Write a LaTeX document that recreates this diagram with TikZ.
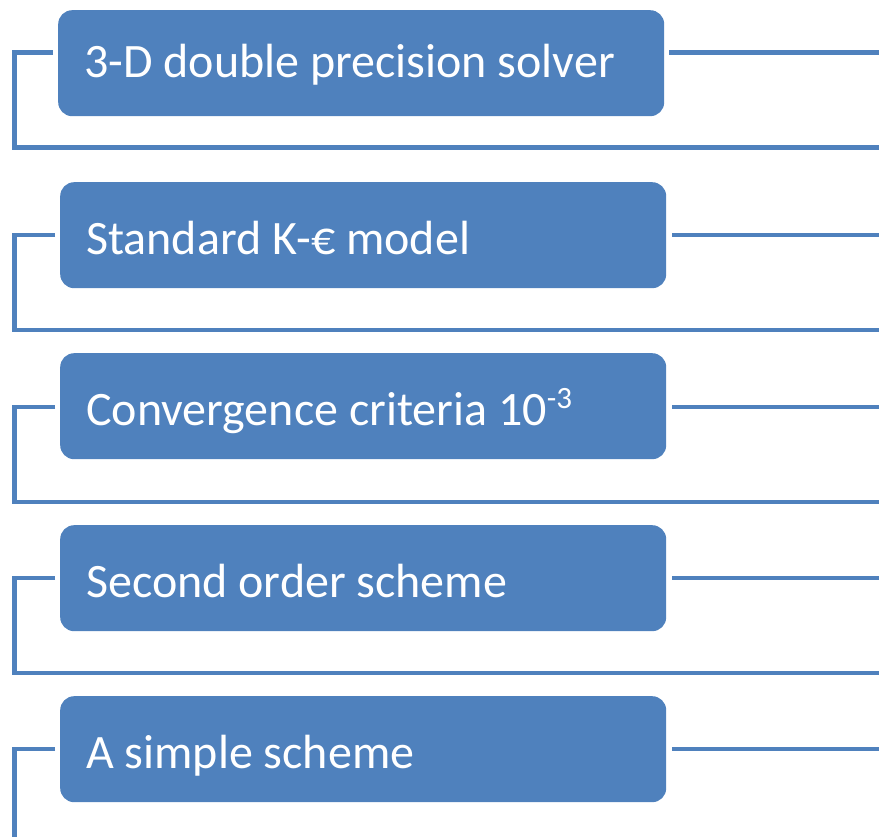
\documentclass[tikz,border=0pt]{standalone}
\usepackage{fontspec}
\setmainfont{Carlito}
\definecolor{boxblue}{HTML}{4F81BD}
\newcommand{\steptext}[1]{\makebox[554pt][l]{#1}}

\begin{document}
\begin{tikzpicture}[x=1pt,y=-1pt,
  stepbox/.style={fill=boxblue, rounded corners=14pt, anchor=north west,
    inner xsep=26pt, inner ysep=0pt,
    text height=72pt, text depth=34pt, text=white,
    font=\fontsize{48}{58}\selectfont},
  link/.style={draw=boxblue, line width=4.5pt}]

\useasboundingbox (0,0) rectangle (879,837);

\node[stepbox, text height=67pt, text depth=39pt] (box1) at (58,10) {\steptext{3-D double precision solver}};
\node[stepbox] (box2) at (60,182) {\steptext{Standard K-€ model}};
\node[stepbox] (box3) at (60,353) {\steptext{Convergence criteria 10\raisebox{17pt}{\fontsize{31}{31}\selectfont -3}}};
\node[stepbox] (box4) at (60,525) {\steptext{Second order scheme}};
\node[stepbox] (box5) at (60,696) {\steptext{A simple scheme}};

% bracket corners on the left, line ends on the right
\coordinate (l1) at (14.5,52.5);  \coordinate (r1) at (879,52.5);  \coordinate (b1) at (879,147.5);
\coordinate (l2) at (14.5,235);   \coordinate (r2) at (879,235);   \coordinate (b2) at (879,330);
\coordinate (l3) at (14.5,407);   \coordinate (r3) at (879,407);   \coordinate (b3) at (879,502);
\coordinate (l4) at (14.5,578);   \coordinate (r4) at (879,578);   \coordinate (b4) at (879,673);
\coordinate (l5) at (14.5,749);   \coordinate (r5) at (879,749);   \coordinate (b5) at (14.5,837);

\draw[link, shorten <=5pt] (box1.west |- l1) -- (l1) -- (l1 |- b1) -- (b1);
\draw[link, shorten <=5pt] (box2.west |- l2) -- (l2) -- (l2 |- b2) -- (b2);
\draw[link, shorten <=5pt] (box3.west |- l3) -- (l3) -- (l3 |- b3) -- (b3);
\draw[link, shorten <=5pt] (box4.west |- l4) -- (l4) -- (l4 |- b4) -- (b4);
\draw[link, shorten <=5pt] (box5.west |- l5) -- (l5) -- (b5);

\draw[link, shorten <=5pt] (box1.east |- r1) -- (r1);
\draw[link, shorten <=6pt] (box2.east |- r2) -- (r2);
\draw[link, shorten <=6pt] (box3.east |- r3) -- (r3);
\draw[link, shorten <=6pt] (box4.east |- r4) -- (r4);
\draw[link, shorten <=6pt] (box5.east |- r5) -- (r5);
\end{tikzpicture}
\end{document}
